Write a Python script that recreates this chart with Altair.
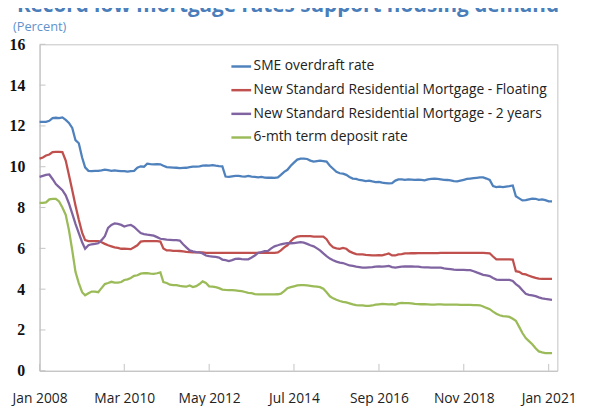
import altair as alt
import pandas as pd

# ---- data (monthly, Jan 2008 .. Feb 2021) ----
series_names = [
    "SME overdraft rate",
    "New Standard Residential Mortgage - Floating",
    "New Standard Residential Mortgage - 2 years",
    "6-mth term deposit rate",
]
series_colors = ["#4f81bd", "#c0504d", "#8064a2", "#9bbb59"]

sme = [
    12.2, 12.2, 12.2, 12.25, 12.38, 12.4, 12.38, 12.42, 12.3, 12.15, 11.9, 11.3,
    11.15, 10.45, 9.97, 9.8, 9.78, 9.8, 9.8, 9.82, 9.86, 9.83, 9.8, 9.82,
    9.8, 9.78, 9.78, 9.76, 9.78, 9.8, 9.95, 10.02, 10.0, 10.15, 10.13, 10.12,
    10.13, 10.12, 10.05, 9.98, 9.97, 9.96, 9.95, 9.93, 9.94, 9.95, 9.98, 10.0,
    10.0, 10.02, 10.05, 10.07, 10.05, 10.08, 10.05, 10.03, 10.02, 9.52, 9.5, 9.53,
    9.55, 9.55, 9.53, 9.52, 9.55, 9.52, 9.5, 9.48, 9.5, 9.47, 9.46, 9.47,
    9.45, 9.48, 9.6, 9.75, 9.85, 10.05, 10.2, 10.35, 10.4, 10.4, 10.38, 10.3,
    10.25, 10.28, 10.3, 10.28, 10.25, 10.05, 9.9, 9.75, 9.68, 9.66, 9.6, 9.5,
    9.42, 9.4, 9.35, 9.33, 9.3, 9.32, 9.28, 9.25, 9.26, 9.22, 9.2, 9.18,
    9.2, 9.32, 9.38, 9.38, 9.36, 9.38, 9.37, 9.36, 9.37, 9.35, 9.33, 9.38,
    9.4, 9.42, 9.4, 9.38, 9.36, 9.35, 9.33, 9.3, 9.28, 9.32, 9.36, 9.4,
    9.42, 9.44, 9.46, 9.48, 9.48, 9.42, 9.35, 9.05, 9.0, 9.02, 9.0, 9.03,
    9.05, 9.08, 8.55, 8.45, 8.35, 8.36, 8.4, 8.44, 8.43, 8.38, 8.4, 8.36,
    8.3, 8.3,
]

floating = [
    10.4, 10.45, 10.55, 10.6, 10.72, 10.73, 10.73, 10.72, 10.3, 9.6, 8.85, 8.1,
    7.4, 6.77, 6.4, 6.35, 6.35, 6.35, 6.35, 6.3, 6.22, 6.15, 6.1, 6.05,
    6.02, 5.98, 5.98, 5.97, 5.96, 6.05, 6.15, 6.33, 6.35, 6.35, 6.35, 6.35,
    6.35, 6.33, 6.0, 5.9, 5.9, 5.88, 5.88, 5.87, 5.85, 5.83, 5.82, 5.8,
    5.8, 5.8, 5.8, 5.78, 5.78, 5.78, 5.78, 5.78, 5.78, 5.78, 5.78, 5.78,
    5.78, 5.78, 5.78, 5.78, 5.78, 5.78, 5.78, 5.78, 5.78, 5.78, 5.78, 5.78,
    5.78, 5.8, 5.9, 6.05, 6.15, 6.35, 6.5, 6.58, 6.6, 6.6, 6.6, 6.6,
    6.58, 6.58, 6.58, 6.57, 6.45, 6.2, 6.05, 6.0, 5.98, 6.02, 5.98, 5.85,
    5.78, 5.72, 5.7, 5.7, 5.68, 5.67, 5.65, 5.65, 5.67, 5.66, 5.7, 5.75,
    5.65, 5.65, 5.7, 5.72, 5.75, 5.75, 5.76, 5.76, 5.77, 5.77, 5.77, 5.77,
    5.77, 5.77, 5.77, 5.78, 5.78, 5.78, 5.78, 5.78, 5.78, 5.78, 5.78, 5.78,
    5.78, 5.78, 5.78, 5.78, 5.78, 5.77, 5.76, 5.6, 5.46, 5.46, 5.46, 5.46,
    5.46, 5.45, 4.88, 4.85, 4.75, 4.72, 4.66, 4.6, 4.55, 4.52, 4.5, 4.5,
    4.5, 4.5,
]

two_year = [
    9.5, 9.55, 9.6, 9.62, 9.4, 9.15, 9.0, 8.85, 8.6, 8.2, 7.7, 7.2,
    6.75, 6.3, 5.98, 6.15, 6.2, 6.22, 6.25, 6.4, 6.6, 7.0, 7.15, 7.22,
    7.2, 7.15, 7.07, 7.12, 7.15, 7.05, 6.9, 6.75, 6.7, 6.67, 6.65, 6.62,
    6.55, 6.47, 6.45, 6.43, 6.42, 6.4, 6.4, 6.38, 6.2, 6.05, 5.9, 5.85,
    5.82, 5.8, 5.75, 5.65, 5.62, 5.6, 5.58, 5.55, 5.45, 5.42, 5.38, 5.42,
    5.48, 5.5, 5.47, 5.46, 5.46, 5.55, 5.65, 5.78, 5.82, 5.86, 5.88, 6.0,
    6.1, 6.15, 6.2, 6.23, 6.25, 6.25, 6.26, 6.28, 6.3, 6.28, 6.22, 6.15,
    6.1, 6.0, 5.9, 5.75, 5.62, 5.5, 5.42, 5.35, 5.3, 5.28, 5.22, 5.16,
    5.14, 5.1, 5.08, 5.06, 5.06, 5.07, 5.08, 5.1, 5.12, 5.1, 5.12, 5.14,
    5.08, 5.06, 5.08, 5.1, 5.11, 5.11, 5.11, 5.1, 5.1, 5.08, 5.07, 5.07,
    5.06, 5.06, 5.05, 5.05, 5.02, 5.0, 4.98, 4.96, 4.95, 4.94, 4.94, 4.93,
    4.93, 4.88, 4.82, 4.76, 4.7, 4.68, 4.64, 4.55, 4.47, 4.45, 4.45, 4.46,
    4.45, 4.4, 4.25, 4.12, 3.95, 3.77, 3.72, 3.7, 3.66, 3.6, 3.55, 3.52,
    3.5, 3.48,
]

deposit = [
    8.23, 8.23, 8.25, 8.4, 8.43, 8.43, 8.3, 8.0, 7.64, 6.9, 5.9, 4.85,
    4.3, 3.85, 3.7, 3.8, 3.88, 3.88, 3.85, 4.05, 4.25, 4.3, 4.36, 4.32,
    4.32, 4.35, 4.45, 4.48, 4.55, 4.65, 4.68, 4.76, 4.78, 4.78, 4.76, 4.75,
    4.78, 4.82, 4.35, 4.3, 4.22, 4.2, 4.2, 4.16, 4.14, 4.12, 4.18, 4.1,
    4.15, 4.25, 4.38, 4.3, 4.14, 4.12, 4.1, 4.05, 3.98, 3.96, 3.95, 3.95,
    3.94, 3.92, 3.9, 3.86, 3.82, 3.8, 3.76, 3.74, 3.74, 3.74, 3.74, 3.74,
    3.74, 3.75, 3.78, 3.9, 4.05, 4.1, 4.14, 4.18, 4.2, 4.2, 4.18, 4.16,
    4.14, 4.12, 4.1, 4.02, 3.85, 3.65, 3.55, 3.48, 3.42, 3.38, 3.35, 3.3,
    3.25, 3.22, 3.21, 3.2, 3.18, 3.18, 3.2, 3.24, 3.26, 3.28, 3.27, 3.25,
    3.26, 3.24, 3.3, 3.33, 3.32, 3.31, 3.3, 3.28, 3.27, 3.26, 3.26, 3.25,
    3.24, 3.24, 3.25, 3.25, 3.24, 3.24, 3.24, 3.24, 3.24, 3.23, 3.23, 3.23,
    3.23, 3.22, 3.22, 3.21, 3.15, 3.08, 3.02, 2.9, 2.8, 2.72, 2.68, 2.66,
    2.64, 2.55, 2.45, 2.15, 1.85, 1.6, 1.45, 1.3, 1.1, 0.95, 0.9, 0.87,
    0.86, 0.86,
]

y_ticks = [0, 2, 4, 6, 8, 10, 12, 14, 16]
x_tick_dates = ["2008-01-01T00:00:00", "2010-03-01T00:00:00", "2012-05-01T00:00:00",
                "2014-07-01T00:00:00", "2016-09-01T00:00:00", "2018-11-01T00:00:00",
                "2021-01-01T00:00:00"]
title_text = "Record low mortgage rates support housing demand"
subtitle_text = "(Percent)"

# ---- build table ----
all_series = [sme, floating, two_year, deposit]
for s in all_series:
    assert len(s) == 158, len(s)
dates = pd.date_range("2008-01-01", periods=158, freq="MS").strftime("%Y-%m-%dT00:00:00")
rows = []
for name, vals in zip(series_names, all_series):
    for d, v in zip(dates, vals):
        rows.append({"date": d, "value": v, "series": name})
df = pd.DataFrame(rows)

W, H = 525, 331
GRAY = "#c3c3c3"

x_scale = alt.Scale(domain=[alt.DateTime(year=2008, month=1, date=1),
                            alt.DateTime(year=2021, month=3, date=23)])
y_scale = alt.Scale(domain=[0, 16], nice=False)

x_axis = alt.Axis(
    values=[alt.DateTime(year=int(d[:4]), month=int(d[5:7]), date=1) for d in x_tick_dates],
    format="%b %Y", title=None, grid=False, ticks=False, labelOverlap=False,
    labelFlush=False,
    labelFont="Open Sans", labelFontSize=14, labelColor="#222222", labelPadding=21,
    domainColor=GRAY, domainWidth=1,
)
y_axis = alt.Axis(
    values=y_ticks, title=None, grid=False, ticks=False,
    labelFont="Liberation Serif", labelFontWeight="bold", labelFontSize=16,
    labelColor="#111111", labelPadding=15, domainColor=GRAY, domainWidth=1,
)

lines = alt.Chart(df).mark_line(strokeWidth=2.3).encode(
    x=alt.X("date:T", scale=x_scale, axis=x_axis),
    y=alt.Y("value:Q", scale=y_scale, axis=y_axis),
    color=alt.Color(
        "series:N",
        scale=alt.Scale(domain=series_names, range=series_colors),
        sort=series_names,
        legend=alt.Legend(
            title=None, orient="none", legendX=193, legendY=11, direction="vertical",
            symbolType="stroke", symbolSize=400, symbolStrokeWidth=2.5,
            labelFont="Open Sans", labelFontSize=14, labelColor="#222222", labelLimit=500,
            labelOffset=1, rowPadding=5, padding=0,
        ),
    ),
)

xt = alt.Chart(pd.DataFrame({"date": x_tick_dates})).mark_rule(color=GRAY, strokeWidth=1).encode(
    x=alt.X("date:T", scale=x_scale, axis=x_axis),
    y=alt.value(H - 7),
    y2=alt.value(H),
)
yt = alt.Chart(pd.DataFrame({"value": y_ticks})).mark_rule(color=GRAY, strokeWidth=1).encode(
    y=alt.Y("value:Q", scale=y_scale, axis=y_axis),
    x=alt.value(0),
    x2=alt.value(6),
)

title_mark = alt.Chart(pd.DataFrame({"t": [title_text]})).mark_text(
    align="left", baseline="alphabetic", font="Open Sans", fontSize=21, fontWeight="bold",
    color="#4a7ebb",
).encode(text="t:N", x=alt.value(-23), y=alt.value(-33))

sub_mark = alt.Chart(pd.DataFrame({"t": [subtitle_text]})).mark_text(
    align="left", baseline="middle", font="Open Sans", fontSize=13, color="#5f93cc",
).encode(text="t:N", x=alt.value(-27), y=alt.value(-17))

chart = alt.layer(lines, xt, yt, title_mark, sub_mark).properties(
    width=W, height=H,
    padding={"left": 32, "top": 34, "right": 26, "bottom": 40},
    autosize=alt.AutoSizeParams(type="none"),
).configure_view(stroke=GRAY, strokeWidth=1)

chart.save("out.html", embed_options={"renderer": "svg", "actions": False})
